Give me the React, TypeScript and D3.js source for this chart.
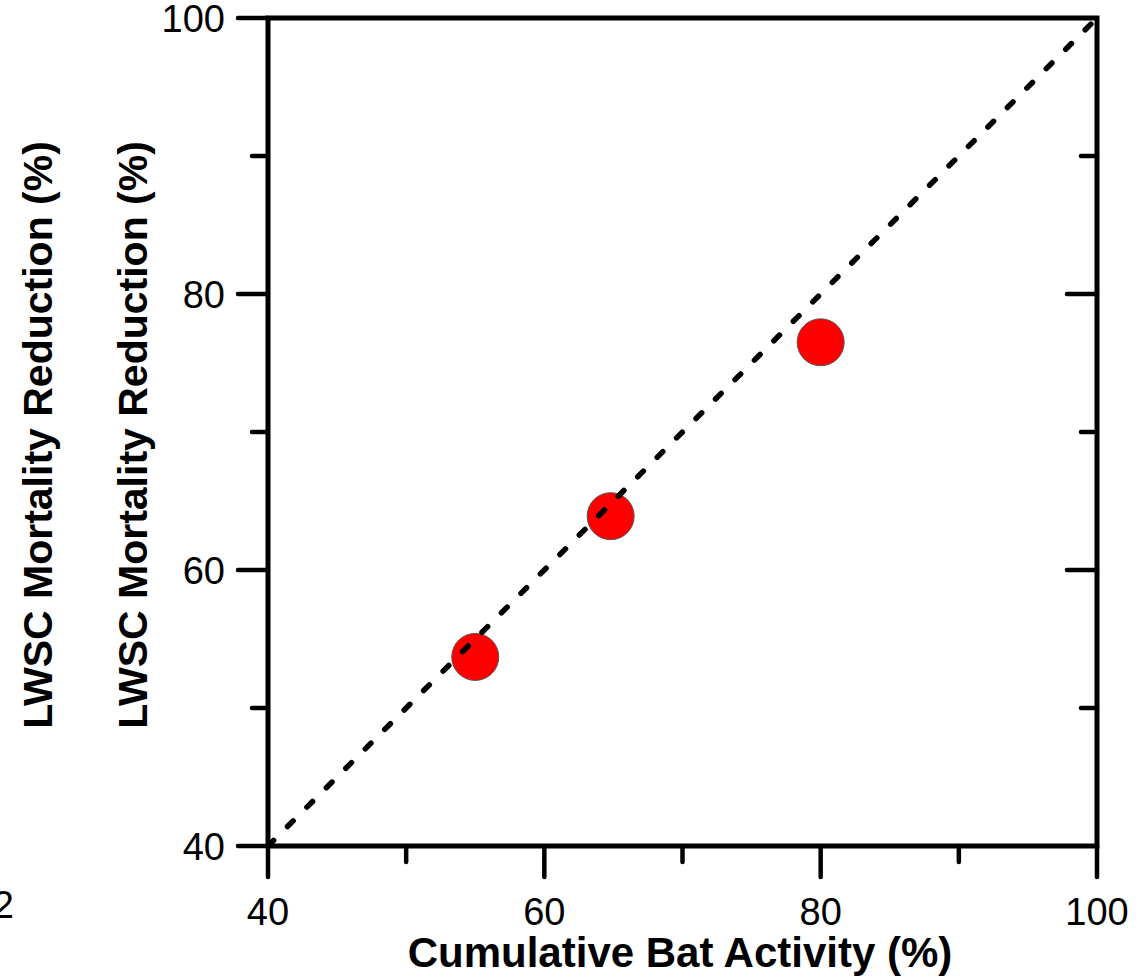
import React from "react";
import * as d3 from "d3";

const batActivity = [55, 64.8, 80];
const mortalityReduction = [53.7, 63.9, 76.5];
const majorTicks = [40, 60, 80, 100];
const minorTicks = [50, 70, 90];
const identityLine = [40, 100];

const width = 1148;
const height = 980;
const font = "'Liberation Sans', Arial, sans-serif";

export default function App() {
  const x = d3.scaleLinear().domain([40, 100]).range([268, 1097]);
  const y = d3.scaleLinear().domain([40, 100]).range([846, 18]);

  const points = batActivity.map((v, i) => ({ x: v, y: mortalityReduction[i] }));

  const line = d3
    .line<number>()
    .x((d) => x(d))
    .y((d) => y(d));

  const left = x(40);
  const right = x(100);
  const top = y(100);
  const bottom = y(40);

  return (
    <svg
      width={width}
      height={height}
      style={{ position: "absolute", left: 0, top: 0, background: "#fff" }}
      fontFamily={font}
    >
      {/* stray label from neighbouring panel */}
      <text x={14} y={918} fontSize={38} textAnchor="end">
        2
      </text>

      {/* points */}
      {points.map((p, i) => (
        <circle
          key={i}
          cx={x(p.x)}
          cy={y(p.y)}
          r={23.5}
          fill="#ff0000"
          stroke="#555"
          strokeWidth={1}
        />
      ))}

      {/* 1:1 line */}
      <path
        d={line(identityLine) ?? ""}
        fill="none"
        stroke="#000"
        strokeWidth={5.5}
        strokeLinecap="round"
        strokeDasharray="8,19.5"
      />

      {/* frame */}
      <rect
        x={left}
        y={top}
        width={right - left}
        height={bottom - top}
        fill="none"
        stroke="#000"
        strokeWidth={5}
      />

      {/* left axis ticks (outward) */}
      {majorTicks.map((t) => (
        <g key={"ly" + t}>
          <line x1={left - 30} x2={left} y1={y(t)} y2={y(t)} stroke="#000" strokeWidth={4.5} strokeLinecap="round" />
          <text x={left - 43} y={y(t)} dy="0.36em" fontSize={38} textAnchor="end">
            {t}
          </text>
        </g>
      ))}
      {minorTicks.map((t) => (
        <line key={"lm" + t} x1={left - 16} x2={left} y1={y(t)} y2={y(t)} stroke="#000" strokeWidth={4.5} strokeLinecap="round" />
      ))}

      {/* right axis ticks (inward) */}
      {majorTicks.slice(1, 3).map((t) => (
        <line key={"ry" + t} x1={right - 30} x2={right} y1={y(t)} y2={y(t)} stroke="#000" strokeWidth={4.5} strokeLinecap="round" />
      ))}
      {minorTicks.map((t) => (
        <line key={"rm" + t} x1={right - 16} x2={right} y1={y(t)} y2={y(t)} stroke="#000" strokeWidth={4.5} strokeLinecap="round" />
      ))}

      {/* bottom axis ticks (outward) */}
      {majorTicks.map((t) => (
        <g key={"bx" + t}>
          <line x1={x(t)} x2={x(t)} y1={bottom} y2={bottom + 31} stroke="#000" strokeWidth={4.5} strokeLinecap="round" />
          <text x={x(t)} y={925} fontSize={38} textAnchor="middle">
            {t}
          </text>
        </g>
      ))}
      {minorTicks.map((t) => (
        <line key={"bm" + t} x1={x(t)} x2={x(t)} y1={bottom} y2={bottom + 16} stroke="#000" strokeWidth={4.5} strokeLinecap="round" />
      ))}

      {/* axis titles */}
      <text x={680} y={967} fontSize={42} fontWeight="bold" textAnchor="middle">
        Cumulative Bat Activity (%)
      </text>
      <text
        transform={`translate(147,${(top + bottom) / 2 + 3}) rotate(-90)`}
        fontSize={41}
        fontWeight="bold"
        textAnchor="middle"
      >
        LWSC Mortality Reduction (%)
      </text>
      <text
        transform={`translate(52,${(top + bottom) / 2 + 3}) rotate(-90)`}
        fontSize={41}
        fontWeight="bold"
        textAnchor="middle"
      >
        LWSC Mortality Reduction (%)
      </text>
    </svg>
  );
}
